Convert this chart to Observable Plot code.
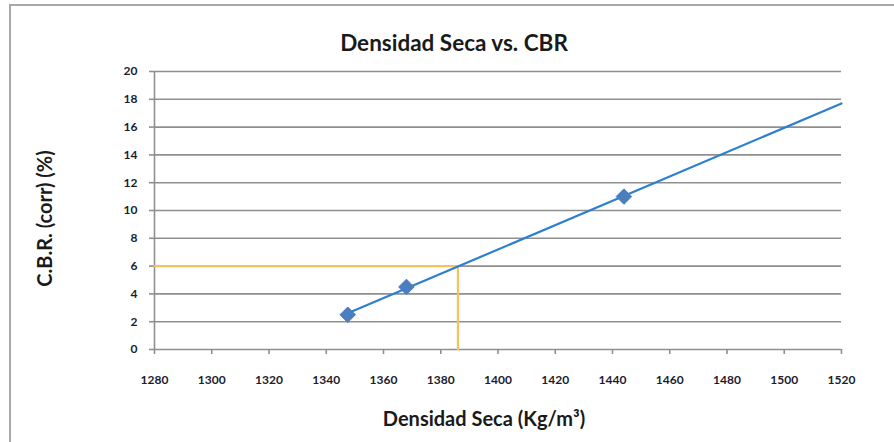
<!DOCTYPE html>
<html>
<head>
<meta charset="utf-8">
<script src="https://cdn.jsdelivr.net/npm/d3@7"></script>
<script src="https://cdn.jsdelivr.net/npm/@observablehq/plot@0.6"></script>
<style>
  html, body { margin: 0; padding: 0; background: #fff; }
  #wrap { position: relative; width: 894px; height: 442px; overflow: hidden; }
  #frame { position: absolute; left: 9px; top: 4px; right: -10px; bottom: -10px;
           border-top: 2px solid #a8a8a8; border-left: 2px solid #a8a8a8; pointer-events: none; }
  svg { font-family: Lato, "Open Sans", sans-serif; }
</style>
</head>
<body>
<div id="wrap"><div id="frame"></div></div>
<script>
// Data
const densidad = [1347.5, 1368, 1444];       // Densidad Seca (Kg/m³)
const cbr = [2.5, 4.5, 11];                  // C.B.R. (corr) (%)
const trendX = [1347.5, 1520];               // trend line endpoints (x)
const trendY = [2.6, 17.7];                  // trend line endpoints (y)
const targetX = [1280, 1386, 1386];          // orange guide path (x)
const targetY = [6, 6, 0];                   // orange guide path (y)
const xTicks = [1280, 1300, 1320, 1340, 1360, 1380, 1400, 1420, 1440, 1460, 1480, 1500, 1520];
const yTicks = [0, 2, 4, 6, 8, 10, 12, 14, 16, 18, 20];
const titleText = "Densidad Seca vs. CBR";
const xLabel = "Densidad Seca (Kg/m³)";
const yLabel = "C.B.R. (corr) (%)";

const points = densidad.map((d, i) => ({x: d, y: cbr[i]}));
const trend = trendX.map((d, i) => ({x: d, y: trendY[i]}));
const guide = targetX.map((d, i) => ({x: d, y: targetY[i]}));

const gridColor = "#8f8f8f";
const textColor = "#1c1c2e";

const chart = Plot.plot({
  width: 894,
  height: 442,
  marginLeft: 154,
  marginRight: 53,
  marginTop: 71,
  marginBottom: 93,
  style: {background: "transparent", overflow: "visible"},
  x: {domain: [1280, 1520]},
  y: {domain: [0, 20]},
  marks: [
    Plot.ruleY(yTicks, {stroke: gridColor, strokeWidth: 1.6}),
    Plot.ruleX([1280], {stroke: gridColor, strokeWidth: 1.6}),
    Plot.axisY({ticks: yTicks, tickSize: 5, tickPadding: 12, stroke: gridColor, strokeWidth: 1.6,
                fill: textColor, fontSize: 12, fontWeight: "bold", label: null, tickFormat: "d"}),
    Plot.axisX({ticks: xTicks, tickSize: 5, tickPadding: 21, stroke: gridColor, strokeWidth: 1.6,
                fill: textColor, fontSize: 12, fontWeight: "bold", label: null, tickFormat: "d"}),
    Plot.line(guide, {x: "x", y: "y", stroke: "#f7c25c", strokeWidth: 2.2}),
    Plot.line(trend, {x: "x", y: "y", stroke: "#2f7fd0", strokeWidth: 2.2}),
    Plot.dot(points, {x: "x", y: "y", symbol: "diamond2", r: 7, fill: "#4a7ebf", stroke: "#4a7ebf", strokeWidth: 1}),
    Plot.text([titleText], {frameAnchor: "top", dy: -36, dx: -44, text: d => d, fontSize: 22.5, fontWeight: "bold", fill: "#1a1a1a"}),
    Plot.text([xLabel], {frameAnchor: "bottom", dy: 76, dx: -14, text: d => d, fontSize: 20, fontWeight: "bold", fill: "#1a1a1a"}),
    Plot.text([yLabel], {frameAnchor: "left", textAnchor: "middle", dx: -109, dy: 8, rotate: -90, text: d => d, fontSize: 20, fontWeight: "bold", fill: "#1a1a1a"})
  ]
});
document.getElementById("wrap").prepend(chart);
</script>
</body>
</html>
